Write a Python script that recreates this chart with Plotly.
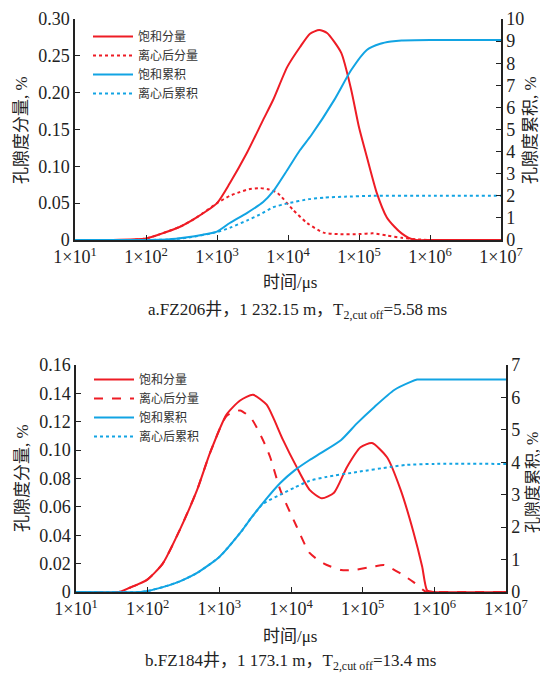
import plotly.graph_objects as go

# ---------------- data (T2 given as log10 of time in microseconds) ----------------
# Panel a: FZ206
a_sat_frac_e = [1.0, 1.5, 2.0, 2.2, 2.48, 2.72, 3.0, 3.18, 3.42, 3.65, 3.79, 3.99, 4.17, 4.31, 4.44, 4.55, 4.75, 4.89, 5.0, 5.11, 5.25, 5.39, 5.5, 5.6, 5.7, 5.8, 6.0, 7.0]
a_sat_frac_v = [0, 0, 0.002, 0.008, 0.018, 0.031, 0.050, 0.077, 0.118, 0.163, 0.190, 0.235, 0.262, 0.280, 0.285, 0.281, 0.254, 0.204, 0.153, 0.113, 0.064, 0.031, 0.018, 0.009, 0.003, 0, 0, 0]
a_cen_frac_e = [1.0, 1.8, 2.0, 2.2, 2.48, 2.72, 3.0, 3.18, 3.32, 3.45, 3.6, 3.72, 3.85, 4.07, 4.27, 4.5, 4.7, 5.0, 5.2, 5.4, 5.6, 5.8, 6.0, 7.0]
a_cen_frac_v = [0, 0, 0.002, 0.008, 0.018, 0.031, 0.050, 0.060, 0.065, 0.069, 0.0705, 0.069, 0.064, 0.041, 0.023, 0.010, 0.008, 0.008, 0.009, 0.006, 0.003, 0.001, 0, 0]
a_sat_cum_e = [1.0, 2.0, 2.3, 2.58, 2.8, 3.0, 3.18, 3.42, 3.65, 3.79, 3.99, 4.17, 4.33, 4.65, 4.89, 5.11, 5.3, 5.45, 5.6, 6.0, 7.0]
a_sat_cum_v = [0, 0, 0.02, 0.12, 0.24, 0.38, 0.77, 1.22, 1.72, 2.2, 3.17, 4.07, 4.75, 6.33, 7.69, 8.6, 8.88, 8.98, 9.03, 9.05, 9.05]
a_cen_cum_e = [1.0, 2.0, 2.3, 2.6, 3.0, 3.18, 3.42, 3.6, 3.79, 4.0, 4.3, 4.51, 4.8, 5.2, 6.0, 7.0]
a_cen_cum_v = [0, 0, 0.02, 0.11, 0.36, 0.55, 0.88, 1.15, 1.48, 1.66, 1.85, 1.92, 1.96, 2.0, 2.0, 2.0]

# Panel b: FZ184
b_sat_frac_e = [1.0, 1.6, 1.75, 1.99, 2.21, 2.45, 2.69, 2.87, 3.1, 3.29, 3.47, 3.66, 3.76, 3.89, 4.08, 4.26, 4.43, 4.6, 4.78, 4.97, 5.13, 5.34, 5.53, 5.71, 5.83, 5.9, 6.0, 7.0]
b_sat_frac_v = [0, 0, 0.003, 0.0085, 0.020, 0.044, 0.072, 0.098, 0.125, 0.135, 0.139, 0.132, 0.122, 0.107, 0.088, 0.072, 0.066, 0.070, 0.088, 0.102, 0.105, 0.095, 0.072, 0.042, 0.018, 0.001, 0, 0]
b_cen_frac_e = [1.0, 1.6, 1.75, 1.99, 2.21, 2.45, 2.69, 2.87, 3.1, 3.29, 3.45, 3.61, 3.71, 3.85, 4.08, 4.26, 4.46, 4.7, 4.88, 5.16, 5.3, 5.53, 5.71, 5.89, 6.0, 7.0]
b_cen_frac_v = [0, 0, 0.003, 0.0085, 0.020, 0.044, 0.072, 0.098, 0.124, 0.128, 0.122, 0.107, 0.095, 0.072, 0.046, 0.0275, 0.020, 0.0155, 0.0155, 0.018, 0.019, 0.013, 0.007, 0.0, 0, 0]
b_sat_cum_e = [1.0, 1.9, 2.0, 2.21, 2.45, 2.69, 3.0, 3.29, 3.45, 3.61, 3.85, 4.05, 4.26, 4.42, 4.70, 4.92, 5.16, 5.44, 5.67, 5.76, 6.0, 7.0]
b_sat_cum_v = [0, 0, 0.03, 0.15, 0.33, 0.59, 1.08, 1.82, 2.3, 2.75, 3.36, 3.75, 4.07, 4.29, 4.69, 5.2, 5.7, 6.23, 6.48, 6.55, 6.55, 6.55]
b_cen_cum_e = [1.0, 1.9, 2.0, 2.21, 2.45, 2.69, 3.0, 3.29, 3.45, 3.61, 3.85, 4.05, 4.26, 4.5, 4.92, 5.4, 5.61, 6.0, 7.0]
b_cen_cum_v = [0, 0, 0.03, 0.15, 0.33, 0.59, 1.08, 1.82, 2.3, 2.72, 3.0, 3.22, 3.43, 3.55, 3.7, 3.86, 3.92, 3.95, 3.95]

series_names = ["饱和分量", "离心后分量", "饱和累积", "离心后累积"]
x_tick_exp = [1, 2, 3, 4, 5, 6, 7]
x_tick_text = [f"1×10<sup>{k}</sup>" for k in x_tick_exp]
a_left_ticks = [0, 0.05, 0.10, 0.15, 0.20, 0.25, 0.30]
a_left_text = ["0", "0.05", "0.10", "0.15", "0.20", "0.25", "0.30"]
a_right_ticks = list(range(0, 11))
b_left_ticks = [0, 0.02, 0.04, 0.06, 0.08, 0.10, 0.12, 0.14, 0.16]
b_left_text = ["0", "0.02", "0.04", "0.06", "0.08", "0.10", "0.12", "0.14", "0.16"]
b_right_ticks = list(range(0, 8))
caption_a = "a.FZ206井，1 232.15 m，T<sub>2,cut off</sub>=5.58 ms"
caption_b = "b.FZ184井，1 173.1 m，T<sub>2,cut off</sub>=13.4 ms"

RED = "#ee1c25"
BLUE = "#12a4e3"
SERIF = "Liberation Serif, Noto Sans CJK SC"
CJK = "Noto Sans CJK SC"

def T(e):
    return [10 ** v for v in e]

fig = go.Figure()

def add(e, v, name, color, dash, xa, ya, legend):
    fig.add_trace(go.Scatter(x=T(e), y=v, name=name, mode="lines",
                             line=dict(color=color, width=2, dash=dash, shape="spline", smoothing=0.6),
                             xaxis=xa, yaxis=ya, legend=legend))

add(a_sat_frac_e, a_sat_frac_v, series_names[0], RED, "solid", "x", "y", "legend")
add(a_cen_frac_e, a_cen_frac_v, series_names[1], RED, "dot", "x", "y", "legend")
add(a_sat_cum_e, a_sat_cum_v, series_names[2], BLUE, "solid", "x", "y2", "legend")
add(a_cen_cum_e, a_cen_cum_v, series_names[3], BLUE, "dot", "x", "y2", "legend")

add(b_sat_frac_e, b_sat_frac_v, series_names[0], RED, "solid", "x2", "y3", "legend2")
add(b_cen_frac_e, b_cen_frac_v, series_names[1], RED, "dash", "x2", "y3", "legend2")
add(b_sat_cum_e, b_sat_cum_v, series_names[2], BLUE, "solid", "x2", "y4", "legend2")
add(b_cen_cum_e, b_cen_cum_v, series_names[3], BLUE, "dot", "x2", "y4", "legend2")

# page is 548x673 but the html body has an 8px margin, so the figure is 540x665
OFF = 8
W, H = 548 - OFF, 673 - OFF
def px(v): return (v - OFF) / W
def py(v): return 1 - (v - OFF) / H

tickfont = dict(family=SERIF, size=18, color="#222")
axcommon = dict(showline=True, linecolor="#222", linewidth=1.5, ticks="inside", ticklen=5,
                tickcolor="#222", showgrid=False, zeroline=False, tickfont=tickfont,
                automargin=False)

xa = dict(type="log", range=[1, 7], tickvals=T(x_tick_exp), ticktext=x_tick_text, **axcommon)

fig.update_layout(
    width=W, height=H, autosize=False,
    margin=dict(l=0, r=0, t=0, b=0, autoexpand=False),
    plot_bgcolor="white", paper_bgcolor="white",
    xaxis=dict(domain=[px(75), px(501)], anchor="y", **xa),
    yaxis=dict(domain=[py(240), py(19)], anchor="x", range=[0, 0.30],
               tickvals=a_left_ticks, ticktext=a_left_text, **axcommon),
    yaxis2=dict(overlaying="y", side="right", anchor="x", range=[0, 10],
                tickvals=a_right_ticks, **axcommon),
    xaxis2=dict(domain=[px(76), px(506)], anchor="y3", **xa),
    yaxis3=dict(domain=[py(592), py(365)], anchor="x2", range=[0, 0.16],
                tickvals=b_left_ticks, ticktext=b_left_text, **axcommon),
    yaxis4=dict(overlaying="y3", side="right", anchor="x2", range=[0, 7],
                tickvals=b_right_ticks, **axcommon),
    legend=dict(x=px(88), y=py(22), xanchor="left", yanchor="top",
                bgcolor="rgba(0,0,0,0)", font=dict(family=CJK, size=12, color="#333"),
                itemwidth=40, tracegroupgap=0),
    legend2=dict(x=px(89), y=py(365), xanchor="left", yanchor="top",
                 bgcolor="rgba(0,0,0,0)", font=dict(family=CJK, size=12, color="#333"),
                 itemwidth=40, tracegroupgap=0),
    showlegend=True,
)

ann = []
def text(x, y, s, size=17, angle=0, family=SERIF):
    ann.append(dict(x=px(x), y=py(y), xref="paper", yref="paper", text=s, showarrow=False,
                    textangle=angle, font=dict(family=family, size=size, color="#222"),
                    xanchor="center", yanchor="middle"))

text(22, 130, "孔隙度分量, %", angle=-90)
text(531, 130, "孔隙度累积, %", angle=-90)
text(290, 283, "时间/μs")
text(297, 311, caption_a)
text(22, 478, "孔隙度分量, %", angle=-90)
text(532, 483, "孔隙度累积, %", size=16, angle=-90)
text(290, 636, "时间/μs")
text(290, 662, caption_b)
fig.update_layout(annotations=ann)

fig.write_html("out.html")
